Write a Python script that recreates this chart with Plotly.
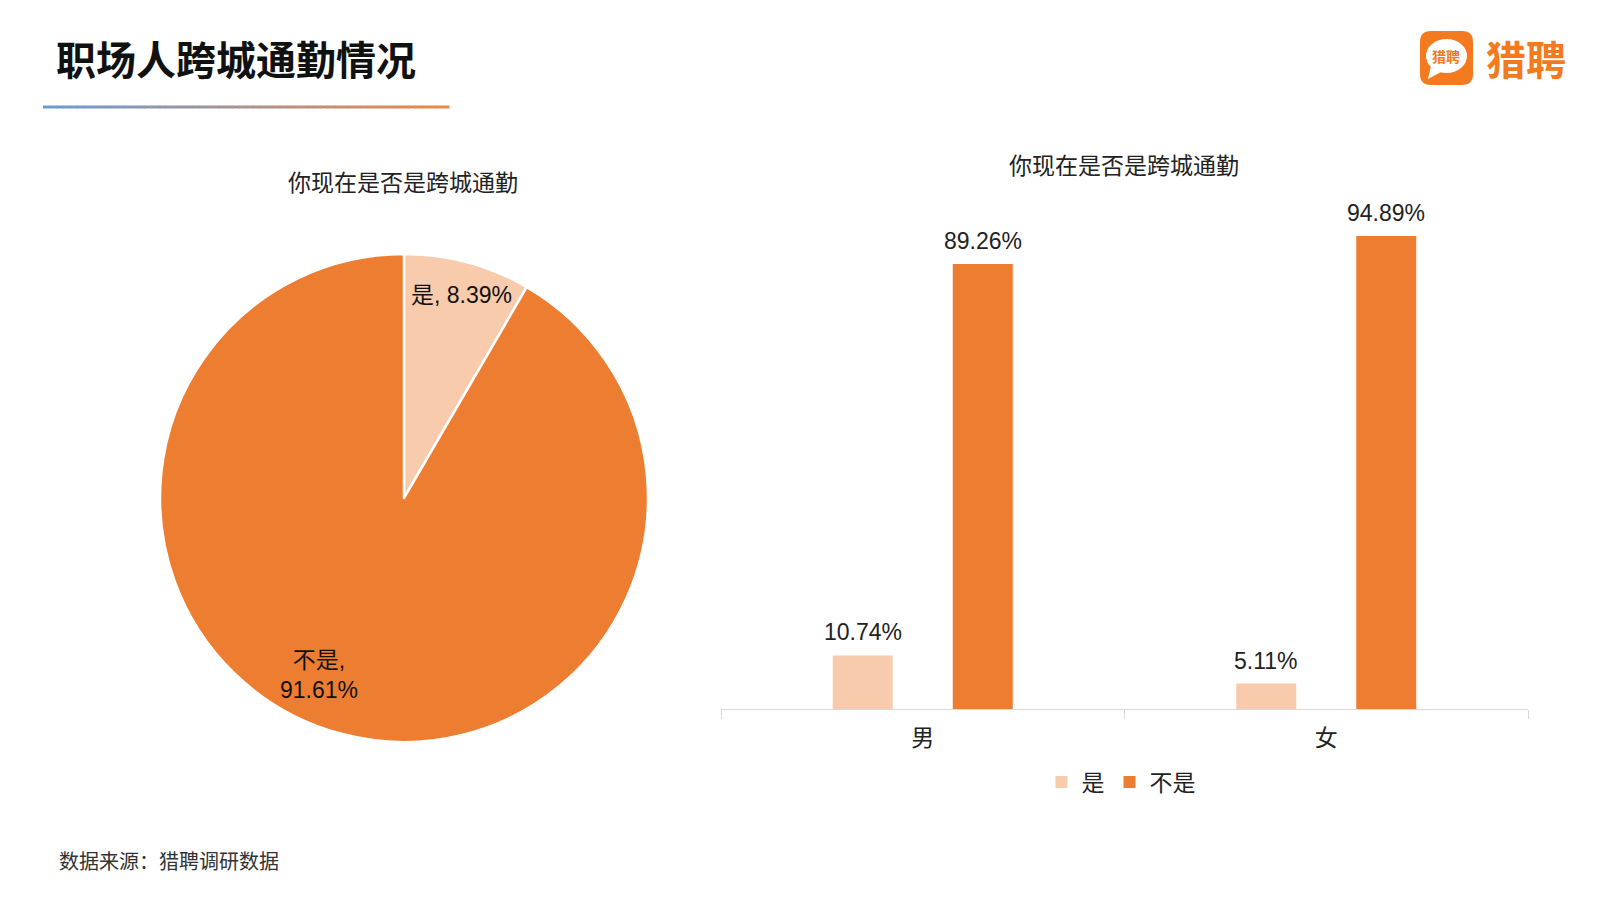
import plotly.graph_objects as go

W, H = 1600, 900

# ---- data ----
pie_labels = ["是", "不是"]
pie_values = [8.39, 91.61]
bar_categories = ["男", "女"]
bar_yes = [10.74, 5.11]
bar_no = [89.26, 94.89]
series_names = ["是", "不是"]

title_text = "职场人跨城通勤情况"
chart_title = "你现在是否是跨城通勤"
source_text = "数据来源：猎聘调研数据"
brand_text = "猎聘"

LIGHT = "#F8CBAD"
DARK = "#ED7D31"
BRAND = "#F47A20"
FONT = "Liberation Sans, Arial, Noto Sans CJK SC, sans-serif"
CJK = "Noto Sans CJK SC, sans-serif"


def px(x):
    return x / W


def py(y):
    return 1 - y / H


fig = go.Figure()

# pie
fig.add_trace(go.Pie(
    labels=pie_labels, values=pie_values, sort=False, direction="clockwise",
    rotation=0, marker=dict(colors=[LIGHT, DARK], line=dict(color="white", width=2.5)),
    textinfo="none", showlegend=False,
    domain=dict(x=[px(160), px(648)], y=[py(742), py(254)]),
))

# bars
for name, vals, col in [(series_names[0], bar_yes, LIGHT), (series_names[1], bar_no, DARK)]:
    fig.add_trace(go.Bar(
        x=bar_categories, y=vals, name=name, marker=dict(color=col, line=dict(width=0)),
        cliponaxis=False,
    ))

fig.update_layout(
    width=W, height=H, margin=dict(l=0, r=0, t=0, b=0),
    paper_bgcolor="white", plot_bgcolor="white",
    barmode="group", bargap=0.405, bargroupgap=0.5,
    font=dict(family=FONT, color="#222222"),
    xaxis=dict(domain=[px(721), px(1528)], showline=True, linecolor="#D9D9D9", linewidth=1,
               ticks="outside", tickson="boundaries", ticklen=9, tickcolor="#D9D9D9",
               tickfont=dict(size=23, color="#222222", family=CJK), showgrid=False,
               ticklabelstandoff=8),
    yaxis=dict(domain=[py(709), py(210.5)], range=[0, 100], visible=False),
    legend=dict(orientation="h", x=px(1121), xanchor="center", y=py(782), yanchor="middle",
                font=dict(size=23, family=CJK, color="#222222"), itemwidth=30,
                traceorder="normal"),
    showlegend=True,
)


def note(text, x, y, size, family=CJK, color="#222222", xanchor="center"):
    return dict(text=text, x=px(x), y=py(y), xref="paper", yref="paper",
                xanchor=xanchor, yanchor="middle", showarrow=False,
                font=dict(size=size, family=family, color=color))


ann = [
    note(f"<b>{title_text}</b>", 54, 58, 40, color="#111111", xanchor="left"),
    note(chart_title, 403, 181, 23),
    note(chart_title, 1124, 164, 23),
    note(f"{pie_labels[0]}, {pie_values[0]:.2f}%", 461, 295, 23, family=FONT, color="#111111"),
    note(f"{pie_labels[1]},<br>{pie_values[1]:.2f}%", 319, 675, 23, family=FONT, color="#111111"),
    note(source_text, 57, 860, 20, color="#333333", xanchor="left"),
    note(f"<b>{brand_text}</b>", 1484, 58, 40, color=BRAND, xanchor="left"),
    note(f"<b>{brand_text}</b>", 1446, 56, 14, color=BRAND),
]

# bar value labels, anchored to the data through the axes
for vals, shift in [(bar_yes, -60), (bar_no, 60)]:
    for cat, v in zip(bar_categories, vals):
        ann.append(dict(text=f"{v:.2f}%", x=cat, y=v, xref="x", yref="y",
                        xanchor="center", yanchor="middle", xshift=shift, yshift=23,
                        showarrow=False, font=dict(size=23, family=FONT, color="#222222")))
fig.update_layout(annotations=ann)

shapes = []
# gradient underline
c0 = (106, 156, 212)
c1 = (236, 136, 72)
x0, x1 = 43, 449
n = 60
for i in range(n):
    t = i / (n - 1)
    col = tuple(int(round(c0[k] + (c1[k] - c0[k]) * t)) for k in range(3))
    xa = x0 + (x1 - x0) * i / n
    xb = x0 + (x1 - x0) * (i + 1) / n + 0.5
    shapes.append(dict(type="line", xref="paper", yref="paper", x0=px(xa), x1=px(xb),
                       y0=py(107), y1=py(107), line=dict(color=f"rgb{col}", width=3)))

# logo rounded square
lx0, lx1, ly0, ly1, r = 1420, 1473, 31, 85, 11
path = (f"M {px(lx0 + r)},{py(ly0)} L {px(lx1 - r)},{py(ly0)} "
        f"Q {px(lx1)},{py(ly0)} {px(lx1)},{py(ly0 + r)} L {px(lx1)},{py(ly1 - r)} "
        f"Q {px(lx1)},{py(ly1)} {px(lx1 - r)},{py(ly1)} L {px(lx0 + r)},{py(ly1)} "
        f"Q {px(lx0)},{py(ly1)} {px(lx0)},{py(ly1 - r)} L {px(lx0)},{py(ly0 + r)} "
        f"Q {px(lx0)},{py(ly0)} {px(lx0 + r)},{py(ly0)} Z")
shapes.append(dict(type="path", path=path, xref="paper", yref="paper",
                   fillcolor=BRAND, line=dict(width=0), layer="below"))
# speech bubble
shapes.append(dict(type="circle", xref="paper", yref="paper", x0=px(1426), x1=px(1467),
                   y0=py(73), y1=py(39), fillcolor="white", line=dict(width=0), layer="below"))
tail = f"M {px(1431)},{py(66)} L {px(1428)},{py(79)} L {px(1441)},{py(72)} Z"
shapes.append(dict(type="path", path=tail, xref="paper", yref="paper",
                   fillcolor="white", line=dict(width=0), layer="below"))
fig.update_layout(shapes=shapes)

fig.write_html("out.html")
